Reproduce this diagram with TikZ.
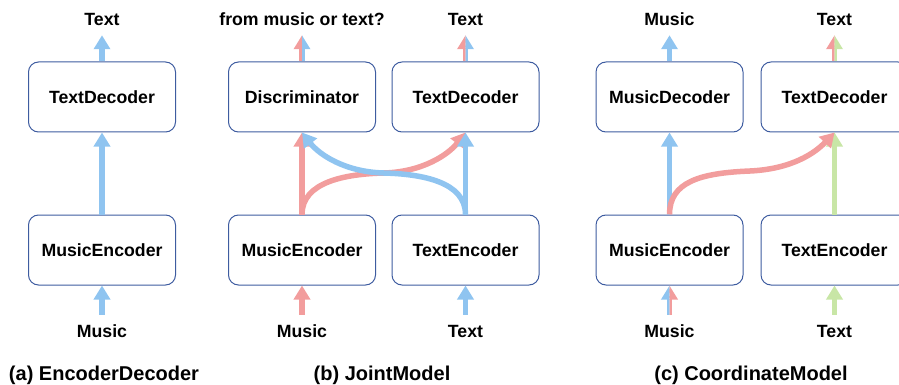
\documentclass[tikz,border=0pt]{standalone}
\usepackage{fontspec}
\setmainfont{Liberation Sans}
\usetikzlibrary{arrows.meta}
\definecolor{boxc}{RGB}{62,92,160}
\definecolor{arrblue}{RGB}{143,196,240}
\definecolor{arrred}{RGB}{242,157,157}
\definecolor{arrgreen}{RGB}{200,230,166}
\tikzset{
  mod/.style={draw=boxc, line width=1pt, rounded corners=10pt, minimum width=147pt,
    minimum height=70pt, inner sep=0pt, font=\fontsize{17.7}{20}\bfseries\selectfont},
  lab/.style={inner sep=9.75pt, text height=12.6pt, text depth=0pt,
    font=\fontsize{17.7}{20}\bfseries\selectfont},
  captxt/.style={inner sep=0pt, font=\fontsize{20}{24}\bfseries\selectfont},
  flow/.style={line width=5.5pt, -{Triangle[width=16pt,length=14pt]}},
}
\newcommand\halfarrow[5]{%
  \begin{scope}\clip (#5-30,-20) rectangle (#5,420); \draw[flow,#1] (#3) -- (#4);\end{scope}
  \begin{scope}\clip (#5,-20) rectangle (#5+30,420); \draw[flow,#2] (#3) -- (#4);\end{scope}}
\begin{document}
\begin{tikzpicture}[x=1pt,y=-1pt]
\useasboundingbox (0,0) rectangle (899,385);
% ---------- (a)
\node[mod] (a-td) at (102,97) {TextDecoder};
\node[mod] (a-me) at (102,250) {MusicEncoder};
\node[lab] (a-out) at (102,19) {Text};
\node[lab] (a-in) at (102,331) {Music};
\node[captxt] (a-cap) at (104,375) {(a) EncoderDecoder};
\draw[flow,arrblue] (a-in) -- (a-me);
\draw[flow,arrblue] (a-me) -- (a-td);
\draw[flow,arrblue] (a-td) -- (a-out);
% ---------- (b)
\node[mod] (b-di) at (302,97) {Discriminator};
\node[mod] (b-td) at (465.5,97) {TextDecoder};
\node[mod] (b-me) at (302,250) {MusicEncoder};
\node[mod] (b-te) at (465.5,250) {TextEncoder};
\node[lab] (b-out1) at (302,19) {from music or text?};
\node[lab] (b-out2) at (465.5,19) {Text};
\node[lab] (b-in1) at (302,331) {Music};
\node[lab] (b-in2) at (465.5,331) {Text};
\node[captxt] (b-cap) at (382,375) {(b) JointModel};
\draw[flow,arrred] (b-in1) -- (b-me);
\draw[flow,arrblue] (b-in2) -- (b-te);
\draw[flow,arrred] (b-me) -- (b-di);
\draw[flow,arrred] (b-me.north) .. controls (302,182) and (345,174) .. (383.75,173)
   .. controls (422,172) and (448,155) .. (b-td.south);
\draw[flow,arrblue] (b-te) -- (b-td);
\draw[flow,arrblue] (b-te.north) .. controls (465.5,182) and (422.5,174) .. (383.75,173)
   .. controls (345.5,172) and (319.5,155) .. (b-di.south);
\halfarrow{arrred}{arrblue}{b-di}{b-out1}{302}
\halfarrow{arrred}{arrblue}{b-td}{b-out2}{465.5}
% ---------- (c)
\node[mod] (c-md) at (669.5,97) {MusicDecoder};
\node[mod] (c-td) at (834.5,97) {TextDecoder};
\node[mod] (c-me) at (669.5,250) {MusicEncoder};
\node[mod] (c-te) at (834.5,250) {TextEncoder};
\node[lab] (c-out1) at (669.5,19) {Music};
\node[lab] (c-out2) at (834.5,19) {Text};
\node[lab] (c-in1) at (669.5,331) {Music};
\node[lab] (c-in2) at (834.5,331) {Text};
\node[captxt] (c-cap) at (751,375) {(c) CoordinateModel};
\halfarrow{arrblue}{arrred}{c-in1}{c-me}{669.5}
\draw[flow,arrgreen] (c-in2) -- (c-te);
\draw[flow,arrblue] (c-me) -- (c-md);
\draw[flow,arrgreen] (c-te) -- (c-td);
\draw[flow,arrred] (c-me.north) .. controls (669.5,182) and (700,173) .. (750,171)
   .. controls (792,169) and (815,153) .. (c-td.south);
\draw[flow,arrblue] (c-md) -- (c-out1);
\halfarrow{arrred}{arrgreen}{c-td}{c-out2}{834.5}
\end{tikzpicture}
\end{document}
